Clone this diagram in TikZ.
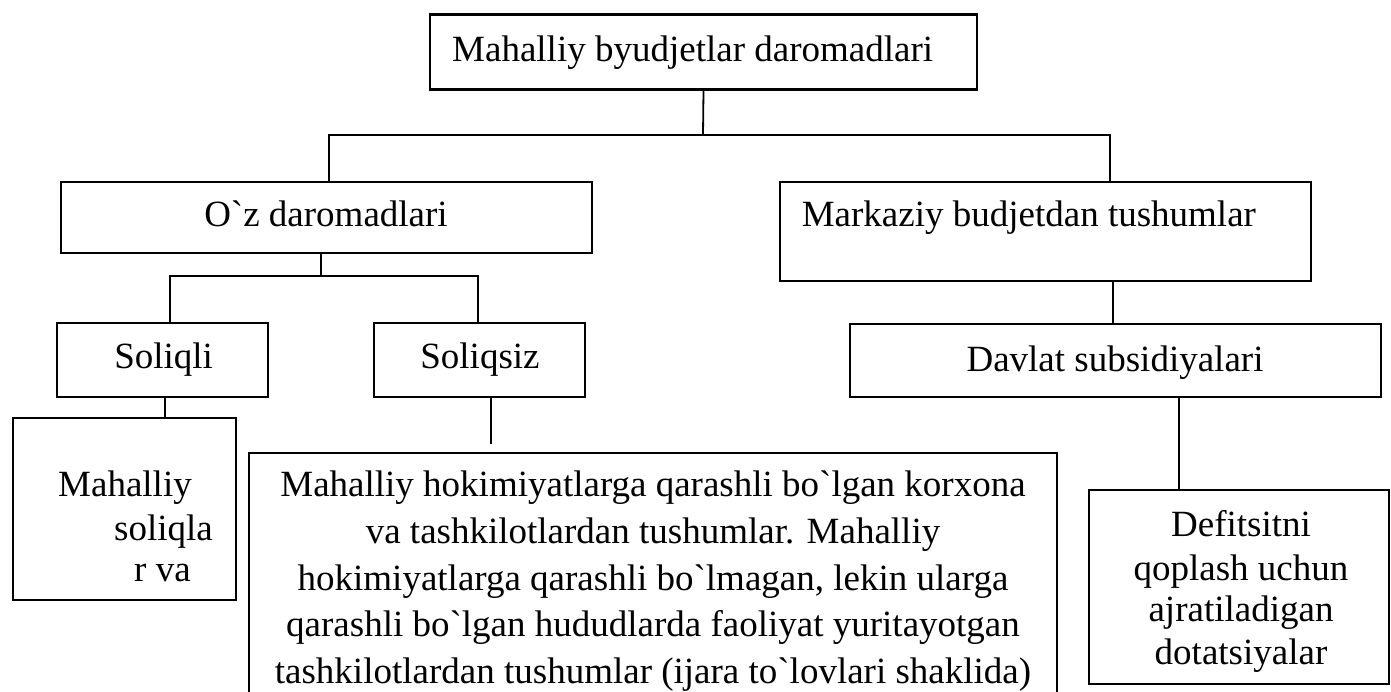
\documentclass[tikz,border=0pt]{standalone}
\usepackage{fontspec}
\newfontfamily\lib{Liberation Serif}
\begin{document}
\begin{tikzpicture}[x=1pt,y=-1pt,
  box/.style={draw,line width=2.8pt,inner sep=0pt,outer sep=0pt},
  conn/.style={draw,line width=1.8pt},
  txt/.style={inner sep=0pt,font=\lib\fontsize{37}{42}\selectfont}]
\path[use as bounding box,clip] (0,0) rectangle (1391,691);
% boxes
\node[box,minimum width=547,minimum height=75] (top) at (703.5,52) {};
\node[box,minimum width=531,minimum height=71] (oz) at (326.5,217.5) {};
\node[box,minimum width=531,minimum height=99] (mark) at (1045.5,231.5) {};
\node[box,minimum width=211,minimum height=74] (soliqli) at (162.5,360) {};
\node[box,minimum width=211,minimum height=74] (soliqsiz) at (479.5,360) {};
\node[box,minimum width=531,minimum height=73] (davlat) at (1115.5,360.5) {};
\node[box,minimum width=223,minimum height=182] (mahsol) at (124.5,509) {};
\node[box,minimum width=808,minimum height=267] (big) at (653,586.5) {};
\node[box,minimum width=300,minimum height=194] (def) at (1239,587) {};
% texts
\node[txt,anchor=base west] (t-top) at (452,61) {Mahalliy byudjetlar daromadlari};
\node[txt,anchor=base] (t-oz) at (326,226.7) {O`z daromadlari};
\node[txt,anchor=base west] (t-mark) at (801.6,226.7) {Markaziy budjetdan tushumlar};
\node[txt,anchor=base] (t-soliqli) at (163.6,368.3) {Soliqli};
\node[txt,anchor=base] (t-soliqsiz) at (480,368.3) {Soliqsiz};
\node[txt,anchor=base] (t-davlat) at (1115,371.7) {Davlat subsidiyalari};
\node[txt,anchor=base west] (t-ms1) at (58,496.7) {Mahalliy};
\node[txt,anchor=base west] (t-ms2) at (114,540) {soliqla};
\node[txt,anchor=base west] (t-ms3) at (134,581.7) {r va};
\node[txt,anchor=base] (t-b1) at (653,496.7) {Mahalliy hokimiyatlarga qarashli bo`lgan korxona};
\node[txt,anchor=base] (t-b2) at (653,543.3) {va tashkilotlardan tushumlar. Mahalliy};
\node[txt,anchor=base] (t-b3) at (653,590) {hokimiyatlarga qarashli bo`lmagan, lekin ularga};
\node[txt,anchor=base] (t-b4) at (653,636.7) {qarashli bo`lgan hududlarda faoliyat yuritayotgan};
\node[txt,anchor=base] (t-b5) at (653,683.3) {tashkilotlardan tushumlar (ijara to`lovlari shaklida)};
\node[txt,anchor=base] (t-d1) at (1241,536.7) {Defitsitni};
\node[txt,anchor=base] (t-d2) at (1241,580) {qoplash uchun};
\node[txt,anchor=base] (t-d3) at (1241,621) {ajratiladigan};
\node[txt,anchor=base] (t-d4) at (1241,664.5) {dotatsiyalar};
% connectors
\coordinate (bus1) at (703,135);
\coordinate (bus2) at (321,276);
\coordinate (e1) at (491,444);
\draw[conn] (top.south) -- (bus1);
\draw[conn] (oz.north -| 329,0) |- (bus1) -| (mark.north -| 1110,0);
\draw[conn] (oz.south -| bus2) -- (bus2);
\draw[conn] (soliqli.north -| 170,0) |- (bus2) -| (soliqsiz.north -| 478,0);
\draw[conn] (soliqli.south -| 165,0) -- (mahsol.north -| 165,0);
\draw[conn] (soliqsiz.south -| e1) -- (e1);
\draw[conn] (mark.south -| 1113,0) -- (davlat.north -| 1113,0);
\draw[conn] (davlat.south -| 1179,0) -- (def.north -| 1179,0);
\end{tikzpicture}
\end{document}
